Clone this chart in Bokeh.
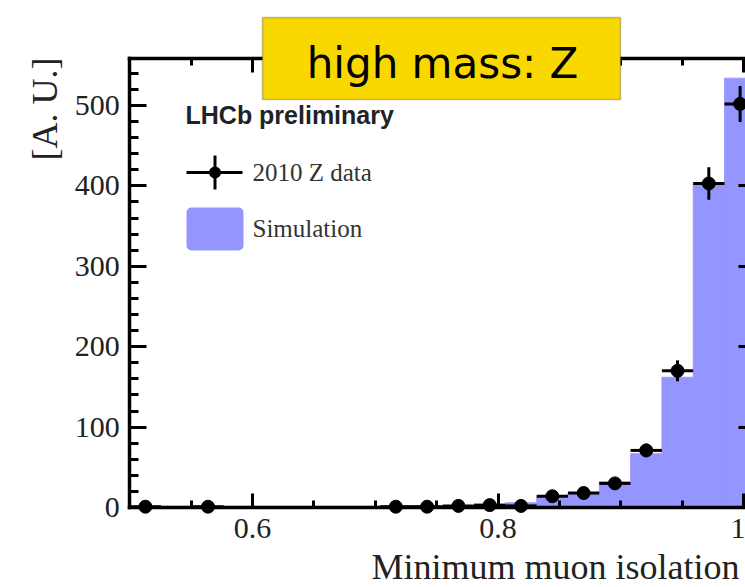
import numpy as np
from math import pi
from bokeh.plotting import figure
from bokeh.models import (Range1d, LinearAxis, SingleIntervalTicker, FixedTicker,
                          Label, BoxAnnotation, ColumnDataSource)
from bokeh.embed import file_html
from bokeh.resources import INLINE

# ---- data ----
bin_edges = [0.5000, 0.5255, 0.5510, 0.5765, 0.6020, 0.6275, 0.6530, 0.6785, 0.7040,
             0.7295, 0.7550, 0.7805, 0.8060, 0.8315, 0.8570, 0.8825, 0.9080, 0.9335,
             0.9590, 0.9845, 1.0100]
data_counts = [1, 0, 1, 0, 0, 0, 0, 0, 1, 1, 2, 3, 2, 14, 18, 30, 71, 170, 403, 502]
sim_counts = [1.5, 1.5, 1.5, 1.5, 1.5, 1.5, 1.5, 1.5, 1.5, 1.5, 1.8, 2, 6, 13, 18, 32,
              67, 162, 403, 534]
x_major_ticks = [0.6, 0.8, 1.0]
x_minor_ticks = [0.5, 0.55, 0.6, 0.65, 0.7, 0.75, 0.8, 0.85, 0.9, 0.95, 1.0]
x_tick_labels = {0.6: "0.6", 0.8: "0.8", 1.0: "1"}
y_max = 558.5

title_text = "high mass: Z"
x_title = "Minimum muon isolation"
y_title = "[A. U.]"
exp_text = "LHCb preliminary"
legend_data = "2010 Z data"
legend_sim = "Simulation"

SIM_COLOR = "#9595ff"
SERIF = "Liberation Serif"

W, H = 745, 587
# pixel geometry of the (cropped) ROOT canvas
PX_06, PX_10 = 252.0, 743.0          # x pixel of 0.6 and 1.0
PY_0, PY_500 = 507.0, 105.0          # y pixel of 0 and 500
xs = (PX_10 - PX_06) / 0.4
ys = (PY_0 - PY_500) / 500.0
x_start = 0.6 - PX_06 / xs
x_end = 0.6 + (W - PX_06) / xs
y_end = PY_0 / ys
y_start = -(H - PY_0) / ys

p = figure(width=W, height=H, output_backend="svg", toolbar_location=None,
           x_range=Range1d(x_start, x_end), y_range=Range1d(y_start, y_end),
           x_axis_location=None, y_axis_location=None, min_border=0,
           min_border_left=0, min_border_right=0, min_border_top=0, min_border_bottom=0)
p.outline_line_color = None
p.xgrid.visible = False
p.ygrid.visible = False
p.background_fill_color = "white"
p.border_fill_color = "white"

lefts = bin_edges[:-1]
rights = bin_edges[1:]
centers = [(a + b) / 2 for a, b in zip(lefts, rights)]

# simulation histogram
p.quad(left=lefts, right=rights, bottom=0, top=sim_counts,
       fill_color=SIM_COLOR, line_color=SIM_COLOR, line_width=0.8)

# data points with Poisson errors
idx = [i for i, c in enumerate(data_counts) if c > 0]
dsrc = ColumnDataSource(dict(
    x=[centers[i] for i in idx],
    x0=[lefts[i] for i in idx],
    x1=[rights[i] for i in idx],
    y=[data_counts[i] for i in idx],
    ylo=[data_counts[i] - np.sqrt(data_counts[i]) for i in idx],
    yhi=[data_counts[i] + np.sqrt(data_counts[i]) for i in idx],
))
p.segment(x0="x0", x1="x1", y0="y", y1="y", source=dsrc, line_color="black", line_width=3)
p.segment(x0="x", x1="x", y0="ylo", y1="yhi", source=dsrc, line_color="black", line_width=3)
p.scatter(x="x", y="y", source=dsrc, size=13, marker="circle", fill_color="black", line_color="black")

# ---- axes (ROOT-style frame, ticks inside) ----
def style(ax, tick_in, minor_in):
    ax.axis_line_width = 3.5
    ax.axis_line_color = "black"
    ax.axis_line_cap = "square"
    ax.major_tick_in = tick_in
    ax.major_tick_out = 0
    ax.minor_tick_in = minor_in
    ax.minor_tick_out = 0
    ax.major_tick_line_width = 3
    ax.minor_tick_line_width = 3
    ax.major_tick_line_color = "black"
    ax.minor_tick_line_color = "black"
    ax.major_label_text_font = SERIF
    ax.major_label_text_font_size = "30px"
    ax.major_label_text_color = "#222222"

x_lo, x_hi = bin_edges[0], bin_edges[-1]
xticker = FixedTicker(ticks=x_major_ticks, minor_ticks=x_minor_ticks)
yticker = SingleIntervalTicker(interval=100, num_minor_ticks=5)

bottom = LinearAxis(ticker=xticker, major_label_overrides=x_tick_labels,
                    fixed_location=0, bounds=(x_lo, x_hi))
style(bottom, 14, 7)
bottom.major_label_standoff = 11
p.add_layout(bottom, "below")

top = LinearAxis(ticker=xticker, major_label_overrides={k: "" for k in x_major_ticks},
                 fixed_location=y_max, bounds=(x_lo, x_hi))
style(top, 14, 7)
p.add_layout(top, "above")

left = LinearAxis(ticker=yticker, fixed_location=x_lo, bounds=(0, y_max))
style(left, 17, 9)
left.major_label_standoff = 10
p.add_layout(left, "left")

right = LinearAxis(ticker=yticker, fixed_location=x_hi, bounds=(0, y_max),
                   major_label_overrides={v: "" for v in [0, 100, 200, 300, 400, 500]})
style(right, 17, 9)
p.add_layout(right, "right")

# ---- annotations (screen units: frame = whole canvas, y measured from bottom) ----
def sx(px):
    return px
def sy(py):
    return H - py
def base(py, fs):
    # anchor so that the alphabetic baseline lands on page row py
    return sy(py - 0.36 * fs)

# title box
p.add_layout(BoxAnnotation(left=sx(262), right=sx(620), top=sy(17), bottom=sy(99),
                           left_units="screen", right_units="screen",
                           top_units="screen", bottom_units="screen",
                           fill_color="#f9d800", fill_alpha=1.0,
                           line_color="#333333", line_width=1.5, level="overlay"))
p.add_layout(Label(x=sx(442), y=base(78, 42), x_units="screen", y_units="screen",
                   text=title_text, text_font="DejaVu Sans", text_font_size="42px",
                   text_color="black", text_align="center", text_baseline="alphabetic",
                   level="overlay"))

# experiment label
p.add_layout(Label(x=sx(185), y=base(123, 25), x_units="screen", y_units="screen",
                   text=exp_text, text_font="Liberation Sans", text_font_style="bold",
                   text_font_size="25px", text_color="#222222", text_baseline="alphabetic"))

# legend: data symbol (bar, error bar, dot)
for l, r, t, b, rad in [(186, 242, 170.5, 173.5, 0), (213, 216, 155, 189, 0),
                        (208.5, 220.5, 166, 178, 6)]:
    p.add_layout(BoxAnnotation(left=sx(l), right=sx(r), top=sy(t), bottom=sy(b),
                               left_units="screen", right_units="screen",
                               top_units="screen", bottom_units="screen",
                               fill_color="black", fill_alpha=1.0, line_color=None,
                               border_radius=rad))
# legend: simulation swatch
p.add_layout(BoxAnnotation(left=sx(186), right=sx(243), top=sy(207), bottom=sy(250),
                           left_units="screen", right_units="screen",
                           top_units="screen", bottom_units="screen",
                           fill_color=SIM_COLOR, fill_alpha=1.0, line_color=None,
                           border_radius=5))
p.add_layout(Label(x=sx(252), y=base(181, 25), x_units="screen", y_units="screen",
                   text=legend_data, text_font=SERIF, text_font_size="25px",
                   text_color="#333333", text_baseline="alphabetic"))
p.add_layout(Label(x=sx(252), y=base(237, 25), x_units="screen", y_units="screen",
                   text=legend_sim, text_font=SERIF, text_font_size="25px",
                   text_color="#333333", text_baseline="alphabetic"))

# axis titles
p.add_layout(Label(x=sx(371), y=base(579, 36), x_units="screen", y_units="screen",
                   text=x_title, text_font=SERIF, text_font_size="36px",
                   text_color="#222222", text_baseline="alphabetic"))
p.add_layout(Label(x=sx(44), y=sy(57), x_units="screen", y_units="screen",
                   text=y_title, text_font=SERIF, text_font_size="36px",
                   text_color="#222222", text_align="right", text_baseline="middle",
                   angle=pi / 2))

open("out.html", "w").write(file_html(p, INLINE))
